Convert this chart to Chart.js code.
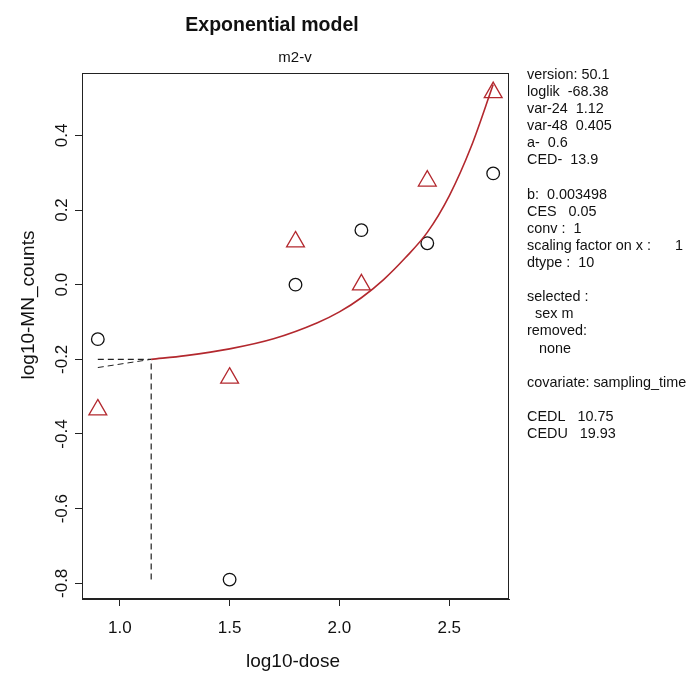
<!DOCTYPE html>
<html>
<head>
<meta charset="utf-8">
<script src="https://cdn.jsdelivr.net/npm/chart.js@4"></script>
<style>
  html, body { margin: 0; padding: 0; background: #fff; }
</style>
</head>
<body>
<canvas id="chart" width="692" height="676"></canvas>
<script>
// observed points (log10 dose vs log10 MN counts)
const doseX = [0.9, 1.5, 1.8, 2.1, 2.4, 2.7];
const circleY = [-0.146, -0.79, 0.0, 0.146, 0.111, 0.298];
const triangleY = [-0.335, -0.25, 0.115, 0.0, 0.278, 0.515];

// fitted exponential curve
const curveX = [1.143, 1.3, 1.5, 1.7, 1.9, 2.0, 2.1, 2.2, 2.3, 2.4, 2.5, 2.6, 2.7];
const curveY = [-0.200, -0.190, -0.172, -0.145, -0.102, -0.073, -0.035, 0.013, 0.072, 0.140, 0.238, 0.370, 0.536];

// dashed helper lines at the CED
const extX = [0.9, 1.143];
const extY = [-0.2, -0.2];
const ext2Y = [-0.222, -0.2];
const cedX = [1.143, 1.143];
const cedY = [-0.79, -0.2];

const xTicks = [1.0, 1.5, 2.0, 2.5];
const yTicks = [-0.8, -0.6, -0.4, -0.2, 0.0, 0.2, 0.4];

const infoLines = [
  "version: 50.1", "loglik  -68.38", "var-24  1.12", "var-48  0.405",
  "a-  0.6", "CED-  13.9", "", "b:  0.003498", "CES   0.05", "conv :  1",
  "scaling factor on x :      1", "dtype :  10", "", "selected :", "  sex m",
  "removed:", "   none", "", "covariate: sampling_time", "", "CEDL   10.75",
  "CEDU   19.93"
];

const RED = "#b3282e";
const FONT = "'Liberation Sans', Arial, sans-serif";

function pts(xs, ys) {
  return xs.map((x, i) => ({ x: x, y: ys[i] }));
}

const textPlugin = {
  id: "rtext",
  afterDraw(chart) {
    const ctx = chart.ctx;
    const area = chart.chartArea;
    const y = chart.scales.y;
    ctx.save();
    // box around plot region
    ctx.strokeStyle = "#222";
    ctx.lineWidth = 1;
    ctx.strokeRect(area.left + 0.5, area.top + 0.5, area.right - area.left - 1, area.bottom - area.top - 1);

    ctx.fillStyle = "#111";
    ctx.textAlign = "center";
    ctx.textBaseline = "middle";
    ctx.font = "bold 19.5px " + FONT;
    ctx.fillText("Exponential model", 272, 26);
    ctx.font = "15px " + FONT;
    ctx.fillText("m2-v", 295, 58);

    ctx.font = "19px " + FONT;
    ctx.fillText("log10-dose", 293, 662);
    ctx.save();
    ctx.translate(29, 305);
    ctx.rotate(-Math.PI / 2);
    ctx.fillText("log10-MN_counts", 0, 0);
    ctx.restore();

    // rotated y tick labels
    ctx.font = "17px " + FONT;
    yTicks.forEach((v) => {
      ctx.save();
      ctx.translate(62, y.getPixelForValue(v));
      ctx.rotate(-Math.PI / 2);
      ctx.fillText(v.toFixed(1), 0, 0);
      ctx.restore();
    });

    ctx.textAlign = "left";
    ctx.font = "14.4px " + FONT;
    infoLines.forEach((s, i) => {
      if (s) ctx.fillText(s, 527, 75 + i * 17.1);
    });
    ctx.restore();
  },
};

const ctx = document.getElementById("chart").getContext("2d");
const chart = new Chart(ctx, {
  type: "scatter",
  data: {
    datasets: [
      {
        data: pts(curveX, curveY),
        showLine: true,
        borderColor: RED,
        borderWidth: 1.6,
        pointRadius: 0,
        cubicInterpolationMode: "monotone",
      },
      {
        data: pts(extX, extY),
        showLine: true,
        borderColor: "#222",
        borderWidth: 1.2,
        borderDash: [6, 4],
        pointRadius: 0,
      },
      {
        data: pts(extX, ext2Y),
        showLine: true,
        borderColor: "#222",
        borderWidth: 1,
        borderDash: [6, 4],
        pointRadius: 0,
      },
      {
        data: pts(cedX, cedY),
        showLine: true,
        borderColor: "#222",
        borderWidth: 1.2,
        borderDash: [6, 4],
        pointRadius: 0,
      },
      {
        data: pts(doseX, circleY),
        pointStyle: "circle",
        pointRadius: 6.3,
        borderColor: "#111",
        backgroundColor: "rgba(0,0,0,0)",
        borderWidth: 1.3,
      },
      {
        data: pts(doseX, triangleY),
        pointStyle: "triangle",
        pointRadius: 10.3,
        borderColor: RED,
        backgroundColor: "rgba(0,0,0,0)",
        borderWidth: 1.3,
      },
    ],
  },
  options: {
    responsive: false,
    animation: false,
    devicePixelRatio: 1,
    layout: { padding: { top: 73, right: 183, left: 0, bottom: 0 } },
    plugins: {
      legend: { display: false },
      tooltip: { enabled: false },
    },
    scales: {
      x: {
        type: "linear",
        min: 0.828,
        max: 2.772,
        afterBuildTicks: (scale) => {
          scale.ticks = xTicks.map((v) => ({ value: v }));
        },
        afterFit: (scale) => {
          scale.height = 77;
        },
        grid: { drawOnChartArea: false, drawTicks: true, tickLength: 7, color: "#222" },
        border: { display: true, color: "#222" },
        ticks: {
          color: "#111",
          font: { size: 17, family: FONT },
          padding: 12,
          maxRotation: 0,
          callback: (v) => Number(v).toFixed(1),
        },
      },
      y: {
        type: "linear",
        min: -0.842,
        max: 0.567,
        afterBuildTicks: (scale) => {
          scale.ticks = yTicks.map((v) => ({ value: v }));
        },
        afterFit: (scale) => {
          scale.width = 82;
        },
        grid: { drawOnChartArea: false, drawTicks: true, tickLength: 7, color: "#222" },
        border: { display: true, color: "#222" },
        ticks: { display: false },
      },
    },
  },
  plugins: [textPlugin],
});
</script>
</body>
</html>
